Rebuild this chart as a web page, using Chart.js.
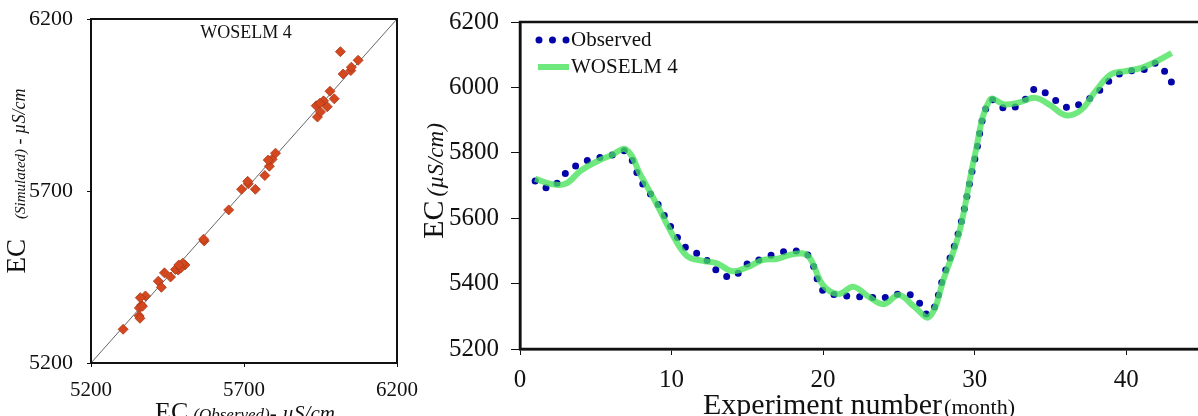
<!DOCTYPE html>
<html>
<head>
<meta charset="utf-8">
<script src="https://cdn.jsdelivr.net/npm/chart.js@4.4.1/dist/chart.umd.min.js"></script>
<style>
  html, body { margin: 0; padding: 0; background: #fff; overflow: hidden; width: 1198px; height: 416px; }
  #scatterBox { position: absolute; left: 0; top: 0; width: 430px; height: 416px; }
  #lineBox { position: absolute; left: 410px; top: 0; width: 800px; height: 416px; }
</style>
</head>
<body>
<div id="scatterBox"><canvas id="scatterChart"></canvas></div>
<div id="lineBox"><canvas id="lineChart"></canvas></div>
<script>
// monthly EC values (µS/cm)
const months = [1, 2, 3, 4, 5, 6, 7, 8, 9, 10, 11, 12, 13, 14, 15, 16, 17, 18, 19, 20, 21, 22,
  23, 24, 25, 26, 27, 28, 29, 30, 31, 32, 33, 34, 35, 36, 37, 38, 39, 40, 41, 42, 43];
const observed = [5714, 5692, 5737, 5768, 5783, 5792, 5803, 5712, 5650, 5570, 5507, 5485, 5440, 5420,
  5460, 5476, 5493, 5500, 5487, 5378, 5365, 5361, 5358, 5357, 5368, 5360, 5305, 5430, 5568, 5779,
  5960, 5936, 5948, 5995, 5972, 5940, 5950, 5981, 6024, 6049, 6051, 6073, 6015];
const woselm4 = [5721, 5705, 5705, 5745, 5772, 5792, 5810, 5728, 5645, 5555, 5485, 5470, 5462, 5438,
  5450, 5472, 5476, 5490, 5485, 5395, 5368, 5390, 5360, 5337, 5365, 5330, 5298, 5420, 5560, 5790,
  5962, 5948, 5955, 5968, 5945, 5915, 5930, 5990, 6040, 6050, 6060, 6080, 6105];

const scatterTicks = [5200, 5700, 6200];
const ecTicks = [5200, 5400, 5600, 5800, 6000, 6200];
const monthTicks = [0, 10, 20, 30, 40];
const monthMax = 45;

const SERIF = '"Liberation Serif", "Times New Roman", serif';
const INK = '#111';
const BLUE = '#0404a8';
const GREEN = 'rgba(70, 226, 90, 0.78)';

// draws a row of text pieces with different fonts, centred on (x, baseline y)
function drawRuns(ctx, runs, x, y, vertical) {
  ctx.save();
  let total = 0;
  runs.forEach(r => {
    ctx.font = r.font;
    r.w = ctx.measureText(r.text).width;
    total += r.w + (r.gap || 0);
  });
  ctx.translate(x, y);
  if (vertical) ctx.rotate(-Math.PI / 2);
  ctx.fillStyle = INK;
  ctx.textAlign = 'left';
  ctx.textBaseline = 'alphabetic';
  let pos = -total / 2;
  runs.forEach(r => {
    pos += r.gap || 0;
    ctx.font = r.font;
    ctx.fillText(r.text, pos, r.dy || 0);
    pos += r.w;
  });
  ctx.restore();
}

const frameBox = {
  id: 'frameBox',
  afterDatasetsDraw(chart, args, opts) {
    const { ctx, chartArea: a } = chart;
    ctx.save();
    ctx.strokeStyle = INK;
    ctx.lineWidth = opts.width;
    ctx.strokeRect(a.left, a.top, a.right - a.left, a.bottom - a.top);
    ctx.restore();
  }
};

const axisText = {
  id: 'axisText',
  afterDraw(chart, args, opts) {
    const ctx = chart.ctx;
    (opts.items || []).forEach(it => drawRuns(ctx, it.runs, it.x, it.y, it.vertical));
  }
};

const fixedTicks = list => axis => { axis.ticks = list.map(v => ({ value: v })); };
// fixed axis size, and no extra room reserved for the end labels
const fixSize = (w, h) => s => {
  if (w) s.width = w;
  if (h) s.height = h;
  s.paddingTop = s.paddingBottom = s.paddingLeft = s.paddingRight = 0;
};
const plain = v => String(v);

// === SCATTER (observed vs simulated) ===
const pairs = observed.map((v, i) => ({ x: v, y: woselm4[i] }));
const lo = scatterTicks[0], hi = scatterTicks[scatterTicks.length - 1];

new Chart(document.getElementById('scatterChart'), {
  type: 'scatter',
  data: {
    datasets: [{
      data: pairs,
      pointStyle: 'rectRot',
      pointRadius: 5,
      backgroundColor: '#d5481f',
      borderColor: '#a83616',
      borderWidth: 0.8,
      order: 0
    }, {
      type: 'line',
      data: [{ x: lo, y: lo }, { x: hi, y: hi }],
      borderColor: '#666',
      borderWidth: 1,
      pointRadius: 0,
      order: 1
    }]
  },
  options: {
    responsive: true,
    maintainAspectRatio: false,
    animation: false,
    events: [],
    layout: { padding: { top: 19, right: 33, left: 0, bottom: 0 } },
    plugins: {
      legend: { display: false },
      tooltip: { enabled: false },
      frameBox: { width: 2 },
      axisText: {
        items: [
          { x: 246, y: 38, runs: [{ text: 'WOSELM 4', font: '18px ' + SERIF }] },
          { x: 25, y: 181, vertical: true, runs: [
            { text: 'EC', font: '27px ' + SERIF },
            { text: '(Simulated)', font: 'italic 15px ' + SERIF, gap: 20 },
            { text: ' - µS/cm', font: 'italic 18px ' + SERIF }
          ] },
          { x: 245, y: 420, runs: [
            { text: 'EC', font: '26px ' + SERIF },
            { text: '(Observed)', font: 'italic 17px ' + SERIF, gap: 5 },
            { text: '- µS/cm', font: 'italic 21px ' + SERIF }
          ] }
        ]
      }
    },
    scales: {
      x: {
        type: 'linear', min: lo, max: hi,
        afterBuildTicks: fixedTicks(scatterTicks),
        afterFit: fixSize(0, 53),
        grid: { drawOnChartArea: false, tickLength: 4, tickColor: INK },
        border: { color: INK, width: 2 },
        ticks: { color: INK, padding: 11, maxRotation: 0, callback: plain, font: { family: SERIF, size: 21 } }
      },
      y: {
        type: 'linear', min: lo, max: hi,
        afterBuildTicks: fixedTicks(scatterTicks),
        afterFit: fixSize(91, 0),
        grid: { drawOnChartArea: false, tickLength: 4, tickColor: INK },
        border: { color: INK, width: 2 },
        ticks: { color: INK, padding: 14, callback: plain, font: { family: SERIF, size: 22 } }
      }
    }
  },
  plugins: [frameBox, axisText]
});

// === LINE (EC per experiment month) ===
const legendBox = {
  id: 'legendBox',
  afterDatasetsDraw(chart) {
    const { ctx, chartArea: a } = chart;
    const obsSet = chart.data.datasets[1];
    const simSet = chart.data.datasets[0];
    ctx.save();
    // dotted symbol
    ctx.strokeStyle = obsSet.borderColor;
    ctx.lineWidth = obsSet.borderWidth;
    ctx.lineCap = 'round';
    ctx.setLineDash([0, 13.5]);
    ctx.beginPath();
    ctx.moveTo(a.left + 19, a.top + 18);
    ctx.lineTo(a.left + 47, a.top + 18);
    ctx.stroke();
    // solid symbol
    ctx.setLineDash([]);
    ctx.lineCap = 'butt';
    ctx.strokeStyle = simSet.borderColor;
    ctx.lineWidth = simSet.borderWidth;
    ctx.beginPath();
    ctx.moveTo(a.left + 18, a.top + 45);
    ctx.lineTo(a.left + 49, a.top + 45);
    ctx.stroke();
    ctx.fillStyle = INK;
    ctx.font = '21px ' + SERIF;
    ctx.textBaseline = 'middle';
    ctx.fillText(obsSet.label, a.left + 51, a.top + 18);
    ctx.fillText(simSet.label, a.left + 51, a.top + 45);
    ctx.restore();
  }
};

new Chart(document.getElementById('lineChart'), {
  type: 'line',
  data: {
    datasets: [{
      label: 'WOSELM 4',
      data: months.map((m, i) => ({ x: m, y: woselm4[i] })),
      borderColor: GREEN,
      borderWidth: 6,
      pointRadius: 0,
      tension: 0.4,
      order: 0
    }, {
      label: 'Observed',
      data: months.map((m, i) => ({ x: m, y: observed[i] })),
      borderColor: BLUE,
      borderWidth: 7,
      borderDash: [0, 12.8],
      borderCapStyle: 'round',
      pointRadius: 0,
      tension: 0.4,
      order: 1
    }]
  },
  options: {
    responsive: true,
    maintainAspectRatio: false,
    animation: false,
    events: [],
    layout: { padding: { top: 22, right: 8, left: 0, bottom: 0 } },
    plugins: {
      legend: { display: false },
      tooltip: { enabled: false },
      frameBox: { width: 2.5 },
      axisText: {
        items: [
          { x: 33, y: 181, vertical: true, runs: [
            { text: 'EC', font: '30px ' + SERIF },
            { text: '(µS/cm)', font: 'italic 23px ' + SERIF, gap: 4 }
          ] },
          { x: 449, y: 414, runs: [
            { text: 'Experiment number', font: '30px ' + SERIF },
            { text: '(month)', font: '22px ' + SERIF, gap: 2 }
          ] }
        ]
      }
    },
    scales: {
      x: {
        type: 'linear', min: 0, max: monthMax,
        afterBuildTicks: fixedTicks(monthTicks),
        afterFit: fixSize(0, 67),
        grid: { drawOnChartArea: false, tickLength: 6, tickColor: INK },
        border: { color: INK, width: 2.5 },
        ticks: { color: INK, padding: 10, maxRotation: 0, callback: plain, font: { family: SERIF, size: 25 } }
      },
      y: {
        type: 'linear', min: 5200, max: 6200,
        afterBuildTicks: fixedTicks(ecTicks),
        afterFit: fixSize(110, 0),
        grid: { drawOnChartArea: false, tickLength: 9, tickColor: INK },
        border: { color: INK, width: 2.5 },
        ticks: { color: INK, padding: 12, callback: plain, font: { family: SERIF, size: 25 } }
      }
    }
  },
  plugins: [frameBox, axisText, legendBox]
});
</script>
</body>
</html>
